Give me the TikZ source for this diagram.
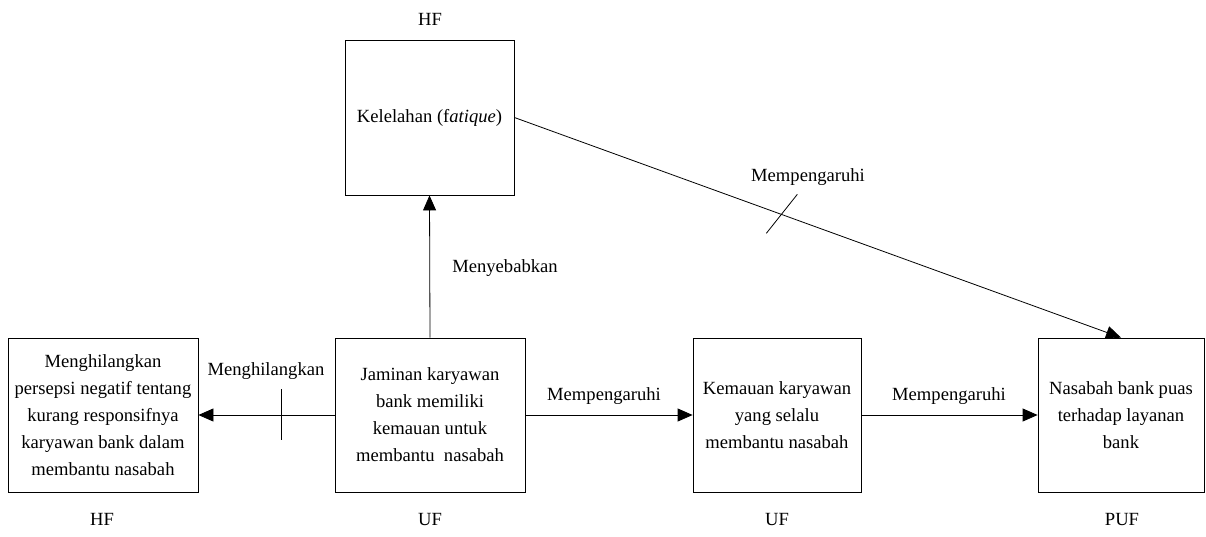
\documentclass[tikz,border=0pt]{standalone}
\usepackage{fontspec}
\setmainfont{Liberation Serif}
\newfontfamily\timesfont{Liberation Serif}
\usetikzlibrary{arrows.meta,calc}
\begin{document}
\begin{tikzpicture}[x=1pt,y=-1pt,
  font=\timesfont\fontsize{18.6pt}{27pt}\selectfont,
  box/.style={draw,line width=0.8pt,align=center,inner sep=2pt,minimum height=154pt},
  tag/.style={inner sep=0pt,anchor=center},
  link/.style={line width=0.8pt,-{Triangle[length=15pt,width=13pt]}},
  tick/.style={line width=0.8pt}]
\useasboundingbox (0,0) rectangle (1206,536);

% boxes
\node[box,minimum width=169pt,minimum height=155pt] (fat) at (429.5,117.5) {Kelelahan (f\textit{atique})};
\node[box,minimum width=190pt] (hil) at (103,415) {Menghilangkan\\persepsi negatif tentang\\kurang responsifnya\\karyawan bank dalam\\membantu nasabah};
\node[box,minimum width=190pt] (jam) at (430,415) {Jaminan karyawan\\bank memiliki\\kemauan untuk\\membantu\ \ nasabah};
\node[box,minimum width=168pt] (kem) at (777,415) {Kemauan karyawan\\yang selalu\\membantu nasabah};
\node[box,minimum width=166pt] (pua) at (1121,415) {Nasabah bank puas\\terhadap layanan\\bank};

% factor tags
\node[tag] (t1) at (430,19) {HF};
\node[tag] (t2) at (102,519) {HF};
\node[tag] (t3) at (430,519) {UF};
\node[tag] (t4) at (777,519) {UF};
\node[tag] (t5) at (1122,519) {PUF};

% connectors
\draw[link] (jam.north) -- (fat.south);
\draw[link] (jam.west) -- (hil.east);
\draw[link] (jam.east) -- (kem.west);
\draw[link] (kem.east) -- (pua.west);
\draw[link] (fat.east) -- (pua.north);

% crossing ticks
\coordinate (c1) at ($(jam.west)!0.387!(hil.east)$);
\draw[tick] (c1) ++(0,-26) -- ++(0,51);
\coordinate (c2) at ($(fat.east)!0.44!(pua.north)$);
\draw[tick] (c2) ++(16,-20) -- ++(-31,39);

% connector labels
\node[tag] (l1) at (266,371) {Menghilangkan};
\node[tag] (l2) at (505,268) {Menyebabkan};
\node[tag] (l3) at (604,396) {Mempengaruhi};
\node[tag] (l4) at (949,396) {Mempengaruhi};
\node[tag] (l5) at (808,177) {Mempengaruhi};
\end{tikzpicture}
\end{document}
